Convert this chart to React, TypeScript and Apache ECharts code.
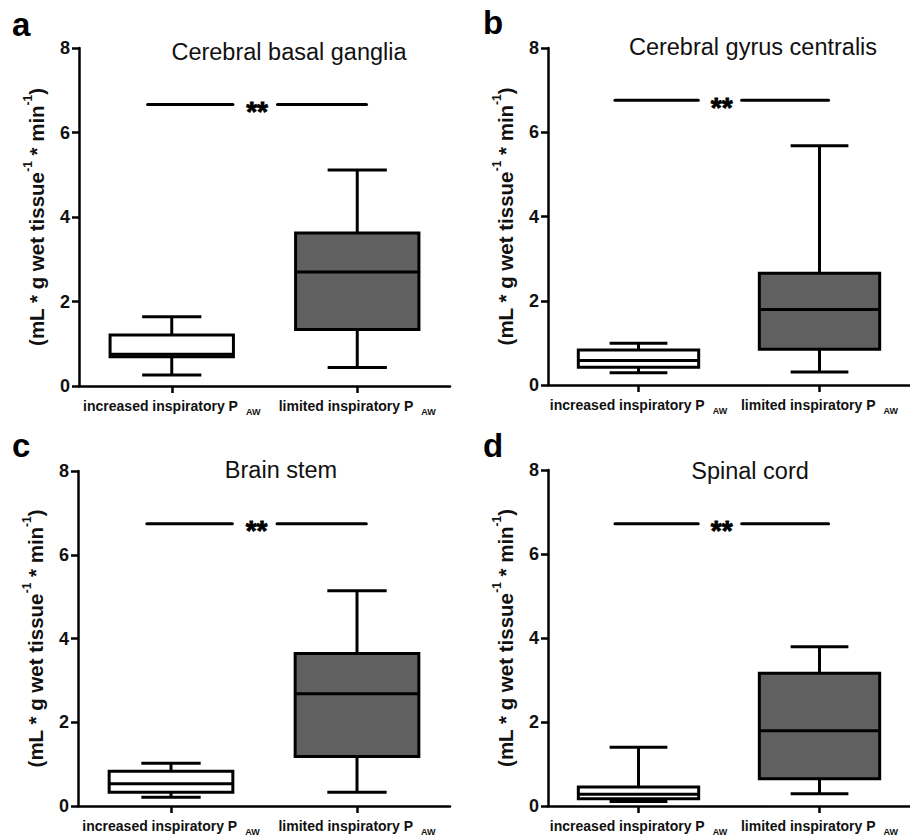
import React, { useEffect, useRef } from 'react';
import * as echarts from 'echarts';

// ---------- data ----------
const categories = ['increased inspiratory P', 'limited inspiratory P'];
const categorySubscript = 'AW';
const panelLetters = ['a', 'b', 'c', 'd'];
const panelTitles = ['Cerebral basal ganglia', 'Cerebral gyrus centralis', 'Brain stem', 'Spinal cord'];
const yTickMin = 0;
const yTickMax = 8;
const yTickStep = 2;

// each row: [min, Q1, median, Q3, max]
const basalGanglia = [
  [0.26, 0.69, 0.75, 1.21, 1.64],
  [0.44, 1.34, 2.7, 3.62, 5.11],
];
const gyrusCentralis = [
  [0.29, 0.42, 0.58, 0.83, 0.99],
  [0.31, 0.85, 1.79, 2.65, 5.68],
];
const brainStem = [
  [0.21, 0.33, 0.53, 0.83, 1.02],
  [0.33, 1.18, 2.68, 3.64, 5.14],
];
const spinalCord = [
  [0.11, 0.17, 0.28, 0.45, 1.4],
  [0.29, 0.65, 1.79, 3.16, 3.79],
];
const panelData = [basalGanglia, gyrusCentralis, brainStem, spinalCord];

const sigLevels = [6.66, 6.76, 6.74, 6.72];
const sigLabel = '**';

// ---------- layout / style ----------
const FONT = '"Liberation Sans", Arial, Helvetica, sans-serif';
const grids = [
  { left: 79, top: 48, width: 371, height: 338 },
  { left: 548, top: 48, width: 368, height: 337 },
  { left: 78, top: 471, width: 372, height: 338 },
  { left: 548, top: 470, width: 368, height: 338 },
];
const titlePos = [
  [289, 52],
  [753, 47],
  [281, 470],
  [750, 471],
];
const letterPos = [
  [12, 24],
  [483, 22],
  [12, 445],
  [483, 445],
];
// bracket geometry in category-index units (category centres at 0 and 1)
const sigLeftSeg = [-0.13, 0.33];
const sigRightSeg = [0.57, 1.05];
const sigStarX = 0.46;

const boxFills = ['#ffffff', '#606060'];

function renderBox(params: any, api: any) {
  const idx = api.value(0);
  const mn = api.value(1);
  const q1 = api.value(2);
  const md = api.value(3);
  const q3 = api.value(4);
  const mx = api.value(5);
  const band = api.size([1, 0])[0];
  const bw = band * 0.665;
  const cw = bw * 0.48;
  const cx = api.coord([idx, md])[0];
  const y = (v: number) => api.coord([idx, v])[1];
  const ls = { stroke: '#000', lineWidth: 3 };
  return {
    type: 'group',
    children: [
      { type: 'line', shape: { x1: cx, y1: y(mx), x2: cx, y2: y(q3) }, style: ls },
      { type: 'line', shape: { x1: cx, y1: y(q1), x2: cx, y2: y(mn) }, style: ls },
      { type: 'line', shape: { x1: cx - cw / 2, y1: y(mx), x2: cx + cw / 2, y2: y(mx) }, style: ls },
      { type: 'line', shape: { x1: cx - cw / 2, y1: y(mn), x2: cx + cw / 2, y2: y(mn) }, style: ls },
      {
        type: 'rect',
        shape: { x: cx - bw / 2, y: y(q3), width: bw, height: y(q1) - y(q3) },
        style: { fill: boxFills[idx] || '#fff', stroke: '#000', lineWidth: 3 },
      },
      { type: 'line', shape: { x1: cx - bw / 2, y1: y(md), x2: cx + bw / 2, y2: y(md) }, style: ls },
    ],
  };
}

function buildOption() {
  const xAxis: any[] = [];
  const yAxis: any[] = [];
  const series: any[] = [];
  const graphic: any[] = [];

  grids.forEach((g, i) => {
    xAxis.push({
      type: 'category',
      gridIndex: i,
      data: categories,
      boundaryGap: true,
      axisLine: { show: true, onZero: false, lineStyle: { color: '#000', width: 2.5 } },
      axisTick: { show: true, alignWithLabel: true, length: 7, lineStyle: { color: '#000', width: 2.5 } },
      axisLabel: {
        margin: 9,
        interval: 0,
        formatter: (v: string) => `{m|${v}}{s|${categorySubscript}}`,
        rich: {
          m: { fontFamily: FONT, fontWeight: 'bold', fontSize: 14, color: '#111', lineHeight: 21 },
          s: {
            fontFamily: FONT,
            fontWeight: 'bold',
            fontSize: 9,
            color: '#111',
            lineHeight: 10,
            verticalAlign: 'bottom',
            padding: [0, 0, 0, 8],
          },
        },
      },
      splitLine: { show: false },
    });
    xAxis.push({
      type: 'value',
      gridIndex: i,
      min: -0.5,
      max: 1.5,
      show: false,
    });
    yAxis.push({
      type: 'value',
      gridIndex: i,
      min: yTickMin,
      max: yTickMax,
      interval: yTickStep,
      axisLine: { show: true, onZero: false, lineStyle: { color: '#000', width: 2.5 } },
      axisTick: { show: true, length: 7, lineStyle: { color: '#000', width: 2.5 } },
      axisLabel: { margin: 9, fontFamily: FONT, fontWeight: 'bold', fontSize: 18, color: '#111' },
      splitLine: { show: false },
      name: '{n|(mL * g wet tissue}{s|-1}{n| * min}{s|-1}{n|)}',
      nameLocation: 'middle',
      nameRotate: 90,
      nameGap: 29,
      nameTextStyle: {
        rich: {
          n: { fontFamily: FONT, fontWeight: 'bold', fontSize: 20.5, color: '#111', lineHeight: 28 },
          s: { fontFamily: FONT, fontWeight: 'bold', fontSize: 12, color: '#111', lineHeight: 13, verticalAlign: 'top' },
        },
      },
    });

    const rows = panelData[i].map((r, k) => [k, ...r]);
    series.push({
      type: 'custom',
      xAxisIndex: i * 2,
      yAxisIndex: i,
      data: rows,
      encode: { x: 0, y: [1, 2, 3, 4, 5] },
      renderItem: renderBox,
      silent: true,
    });
    const lvl = sigLevels[i];
    [sigLeftSeg, sigRightSeg].forEach((seg) => {
      series.push({
        type: 'line',
        xAxisIndex: i * 2 + 1,
        yAxisIndex: i,
        data: [
          [seg[0], lvl],
          [seg[1], lvl],
        ],
        symbol: 'none',
        lineStyle: { color: '#000', width: 3, cap: 'round' },
        silent: true,
      });
    });
    series.push({
      type: 'scatter',
      xAxisIndex: i * 2 + 1,
      yAxisIndex: i,
      data: [[sigStarX, lvl]],
      symbolSize: 0,
      itemStyle: { color: '#000', opacity: 1 },
      label: {
        show: true,
        position: 'inside',
        formatter: sigLabel,
        fontFamily: FONT,
        fontWeight: 'bold',
        fontSize: 28,
        color: '#000',
        opacity: 1,
        textBorderColor: '#000',
        textBorderWidth: 0.8,
        offset: [0, 7],
      },
      silent: true,
    });

    graphic.push({
      type: 'text',
      x: titlePos[i][0],
      y: titlePos[i][1],
      style: {
        text: panelTitles[i],
        fontFamily: FONT,
        fontSize: 23.5,
        fill: '#111',
        align: 'center',
        verticalAlign: 'middle',
      },
    });
    graphic.push({
      type: 'text',
      x: letterPos[i][0],
      y: letterPos[i][1],
      style: {
        text: panelLetters[i],
        fontFamily: FONT,
        fontWeight: 'bold',
        fontSize: 33,
        fill: '#000',
        align: 'left',
        verticalAlign: 'middle',
      },
    });
  });

  return {
    animation: false,
    backgroundColor: '#ffffff',
    grid: grids.map((g) => ({ ...g, containLabel: false })),
    xAxis,
    yAxis,
    series,
    graphic,
  };
}

export default function App() {
  const ref = useRef<HTMLDivElement>(null);
  useEffect(() => {
    if (!ref.current) return;
    const chart = echarts.init(ref.current, undefined, { renderer: 'svg' });
    chart.setOption(buildOption() as any);
    return () => chart.dispose();
  }, []);
  return (
    <div
      ref={ref}
      style={{ position: 'fixed', left: 0, top: 0, width: 910, height: 836, background: '#fff' }}
    />
  );
}
